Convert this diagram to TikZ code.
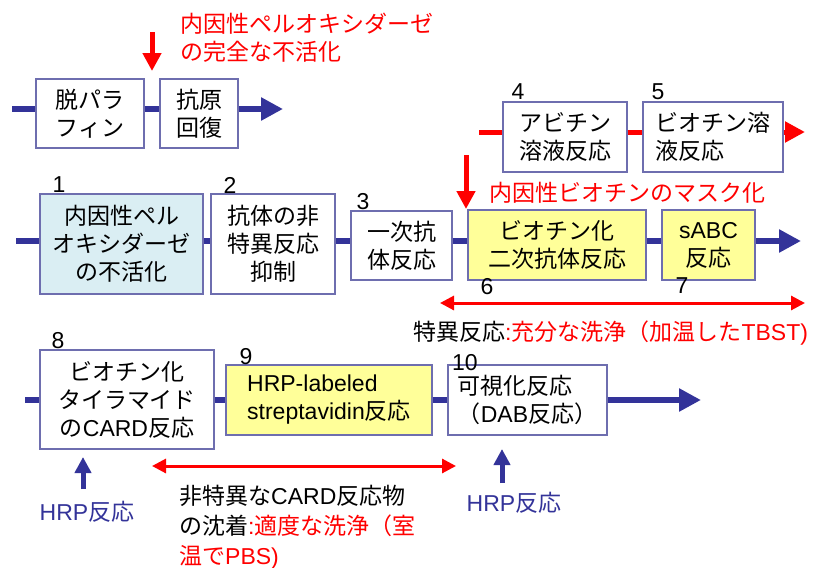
\documentclass[tikz,border=0pt]{standalone}
\usepackage{fontspec}
\setmainfont{Liberation Sans}
\newfontfamily\jp{Noto Sans CJK JP}
\newfontfamily\lt{Liberation Sans}
\usetikzlibrary{arrows.meta}
\definecolor{lineblue}{RGB}{51,51,153}
\definecolor{bordercol}{RGB}{110,110,175}
\definecolor{lightblue}{RGB}{218,238,243}
\definecolor{lightyellow}{RGB}{255,255,153}
\definecolor{myred}{RGB}{255,0,0}
\newcommand\jpf{\jp\fontsize{23}{28}\selectfont}
\newcommand\ltf{\lt\fontsize{23}{28}\selectfont}
\begin{document}
\begin{tikzpicture}[x=1pt,y=-1pt,
  box/.style={draw=bordercol, line width=1.1pt, inner sep=0pt, font=\jpf, align=center, fill=white},
  boxl/.style={box, align=left},
  bline/.style={draw=lineblue, line width=6pt},
  barrow/.style={draw=lineblue, line width=6pt, -{Triangle[length=22pt,width=22pt]}},
  rline/.style={draw=myred, line width=5pt},
  rarrow/.style={draw=myred, line width=5pt, -{Triangle[length=20pt,width=20pt]}},
  rdown/.style={draw=myred, line width=5pt, -{Triangle[length=18pt,width=18pt]}},
  bup/.style={draw=lineblue, line width=5pt, -{Triangle[length=16pt,width=16pt]}},
  rdouble/.style={draw=myred, line width=3pt, {Triangle[length=14pt,width=14pt]}-{Triangle[length=14pt,width=14pt]}},
  num/.style={font=\ltf, inner sep=0pt},
  lbl/.style={font=\jpf, inner sep=0pt, align=left},
]
\useasboundingbox (0,0) rectangle (823,568);
\fill[white] (0,0) rectangle (823,568);

% row 1
\node[box, minimum width=108pt, minimum height=69pt] (b0a) at (90,113.5) {脱パラ\\フィン};
\node[boxl, minimum width=78pt, minimum height=69pt] (b0b) at (199,113.5) {抗原\\回復};
\coordinate (s0) at (12,109);
\coordinate (e0) at (283,109);
\draw[bline] (s0) -- (b0a.west |- s0);
\draw[bline] (b0a.east |- s0) -- (b0b.west |- s0);
\draw[barrow] (b0b.east |- s0) -- (e0);
\coordinate (ra1) at (152,32);
\coordinate (ra1e) at (152,71);
\draw[rdown] (ra1) -- (ra1e);
\node[lbl, text=myred, anchor=west] (t0) at (180,37.5) {内因性ペルオキシダーゼ\\の完全な不活化};

% row 2
\node[boxl, minimum width=124pt, minimum height=70pt] (b4) at (565,137) {アビチン\\溶液反応};
\node[boxl, minimum width=140pt, minimum height=70pt] (b5) at (713,137) {ビオチン溶\\液反応};
\coordinate (s2) at (479,132);
\coordinate (e2) at (805,132);
\draw[rline] (s2) -- (b4.west |- s2);
\draw[rline] (b4.east |- s2) -- (b5.west |- s2);
\draw[rarrow] (b5.east |- s2) -- (e2);
\node[num] (n4) at (518,92) {4};
\node[num] (n5) at (658,92) {5};

% row 3
\node[box, fill=lightblue, minimum width=163pt, minimum height=100pt] (b1) at (121.5,244) {内因性ペル\\オキシダーゼ\\の不活化};
\node[box, minimum width=124pt, minimum height=100pt] (b2) at (273,244) {抗体の非\\特異反応\\抑制};
\node[box, minimum width=101pt, minimum height=69pt] (b3) at (401.5,245.5) {一次抗\\体反応};
\node[box, fill=lightyellow, minimum width=178pt, minimum height=70pt] (b6) at (557,245) {ビオチン化\\二次抗体反応};
\node[box, fill=lightyellow, minimum width=93pt, minimum height=70pt] (b7) at (708.5,245) {{\ltf sABC}\\反応};
\coordinate (s3) at (16,241);
\coordinate (e3) at (801,241);
\draw[bline] (s3) -- (b1.west |- s3);
\draw[bline] (b1.east |- s3) -- (b2.west |- s3);
\draw[bline] (b2.east |- s3) -- (b3.west |- s3);
\draw[bline] (b3.east |- s3) -- (b6.west |- s3);
\draw[bline] (b6.east |- s3) -- (b7.west |- s3);
\draw[barrow] (b7.east |- s3) -- (e3);
\node[num] (n1) at (59,185) {1};
\node[num] (n2) at (230,185) {2};
\node[num] (n3) at (363,202) {3};
\node[num] (n6) at (487,287) {6};
\node[num] (n7) at (682,286) {7};
\coordinate (ra2) at (466,155);
\coordinate (ra2e) at (466,209);
\draw[rdown] (ra2) -- (ra2e);
\node[lbl, text=myred] (t2) at (627,193) {内因性ビオチンのマスク化};
\coordinate (d1a) at (440,303);
\coordinate (d1b) at (805,303);
\draw[rdouble] (d1a) -- (d1b);
\node[lbl, anchor=west] (t3) at (413,333) {特異反応\textcolor{myred}{{\ltf :}充分な洗浄（加温した{\ltf TBST)}}};

% row 4
\node[box, minimum width=174pt, minimum height=99pt] (b8) at (127,399.5) {ビオチン化\\タイラマイド\\の{\ltf CARD}反応};
\node[boxl, fill=lightyellow, minimum width=206pt, minimum height=70pt] (b9) at (329,400) {{\ltf HRP-labeled}\\{\ltf streptavidin}反応};
\node[boxl, minimum width=159pt, minimum height=70pt] (b10) at (527.5,400) {可視化反応\\（{\ltf DAB}反応）};
\coordinate (s4) at (25,400);
\coordinate (e4) at (701,400);
\draw[bline] (s4) -- (b8.west |- s4);
\draw[bline] (b8.east |- s4) -- (b9.west |- s4);
\draw[bline] (b9.east |- s4) -- (b10.west |- s4);
\draw[barrow] (b10.east |- s4) -- (e4);
\node[num] (n8) at (58,341) {8};
\node[num] (n9) at (246,357) {9};
\node[num] (n10) at (465,363) {10};
\coordinate (u1) at (83,489);
\coordinate (u1e) at (83,457);
\draw[bup] (u1) -- (u1e);
\coordinate (u2) at (502,483);
\coordinate (u2e) at (502,449);
\draw[bup] (u2) -- (u2e);
\node[lbl, text=lineblue] (h1) at (87,512) {{\ltf HRP}反応};
\node[lbl, text=lineblue] (h2) at (514,503) {{\ltf HRP}反応};
\coordinate (d2a) at (152,466);
\coordinate (d2b) at (456,466);
\draw[rdouble] (d2a) -- (d2b);
\node[lbl, anchor=west, font=\jp\fontsize{23}{30}\selectfont] (t4) at (179,527) {非特異な{\ltf CARD}反応物\\の沈着\textcolor{myred}{{\ltf :}適度な洗浄（室}\\\textcolor{myred}{温で{\ltf PBS)}}};
\end{tikzpicture}
\end{document}
